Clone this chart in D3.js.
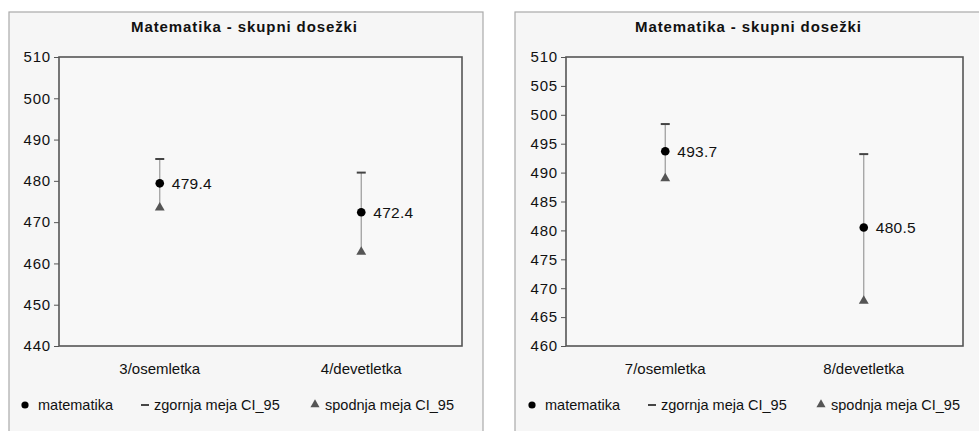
<!DOCTYPE html>
<html>
<head>
<meta charset="utf-8">
<script src="https://cdn.jsdelivr.net/npm/d3@7"></script>
<style>
  body { margin: 0; background: #fff; font-family: "Liberation Sans", Arial, sans-serif; }
  svg { display: block; }
</style>
</head>
<body>
<svg id="chart" width="979" height="431"></svg>
<script>
// data
var title = "Matematika - skupni dosežki";
var categoriesLeft = ["3/osemletka", "4/devetletka"];
var meanLeft = [479.4, 472.4];
var upperLeft = [485.3, 482.0];
var lowerLeft = [473.5, 462.8];
var ticksLeft = [440, 450, 460, 470, 480, 490, 500, 510];

var categoriesRight = ["7/osemletka", "8/devetletka"];
var meanRight = [493.7, 480.5];
var upperRight = [498.4, 493.2];
var lowerRight = [489.0, 467.8];
var ticksRight = [460, 465, 470, 475, 480, 485, 490, 495, 500, 505, 510];

var legendLabels = ["matematika", "zgornja meja CI_95", "spodnja meja CI_95"];

var svg = d3.select("#chart");

function drawChart(box, plot, cats, mean, upper, lower, ticks, legendX) {
    var g = svg.append("g");

    g.append("rect")
        .attr("x", box.x).attr("y", box.y)
        .attr("width", box.w).attr("height", box.h)
        .attr("fill", "#f6f6f6")
        .attr("stroke", "#aaa")
        .attr("stroke-width", 1.2);

    g.append("text")
        .attr("x", plot.x + plot.w / 2 - 16)
        .attr("y", 32)
        .attr("text-anchor", "middle")
        .style("font-weight", "bold")
        .style("font-size", "15px")
        .style("letter-spacing", "0.9px")
        .attr("fill", "#111")
        .text(title);

    var x = d3.scaleBand().domain(cats).range([plot.x, plot.x + plot.w]);
    var y = d3.scaleLinear().domain([ticks[0], ticks[ticks.length - 1]])
        .range([plot.y + plot.h, plot.y]);

    g.append("rect")
        .attr("x", plot.x).attr("y", plot.y)
        .attr("width", plot.w).attr("height", plot.h)
        .attr("fill", "#f8f8f8")
        .attr("stroke", "#555")
        .attr("stroke-width", 1.6);

    var yAxis = g.append("g")
        .attr("transform", "translate(" + plot.x + ",0)")
        .call(d3.axisLeft(y).tickValues(ticks).tickSize(5).tickPadding(3).tickFormat(d3.format("d")));
    yAxis.select(".domain").remove();
    yAxis.selectAll("line").attr("stroke", "#555");
    yAxis.selectAll("text")
        .style("font-size", "15px")
        .style("letter-spacing", "0.8px")
        .style("font-family", "Liberation Sans, Arial, sans-serif")
        .attr("fill", "#111");

    g.append("g")
        .selectAll("text")
        .data(cats)
        .join("text")
        .attr("x", function (d) { return x(d) + x.bandwidth() / 2; })
        .attr("y", plot.y + plot.h + 28)
        .attr("text-anchor", "middle")
        .style("font-size", "15px")
        .attr("fill", "#111")
        .text(function (d) { return d; });

    var pts = cats.map(function (c, i) {
        return { cat: c, mean: mean[i], up: upper[i], lo: lower[i] };
    });
    var cx = function (d) { return x(d.cat) + x.bandwidth() / 2; };

    // error line from lower to upper
    g.append("g").selectAll("line")
        .data(pts).join("line")
        .attr("x1", cx).attr("x2", cx)
        .attr("y1", function (d) { return y(d.up); })
        .attr("y2", function (d) { return y(d.lo); })
        .attr("stroke", "#9a9a9a")
        .attr("stroke-width", 1.2);

    // upper caps
    g.append("g").selectAll("line")
        .data(pts).join("line")
        .attr("x1", function (d) { return cx(d) - 4.5; })
        .attr("x2", function (d) { return cx(d) + 4.5; })
        .attr("y1", function (d) { return y(d.up); })
        .attr("y2", function (d) { return y(d.up); })
        .attr("stroke", "#444")
        .attr("stroke-width", 2);

    // lower triangles
    var tri = d3.symbol().type(d3.symbolTriangle).size(42);
    g.append("g").selectAll("path")
        .data(pts).join("path")
        .attr("d", tri)
        .attr("transform", function (d) { return "translate(" + cx(d) + "," + y(d.lo) + ")"; })
        .attr("fill", "#555");

    // mean dots
    g.append("g").selectAll("circle")
        .data(pts).join("circle")
        .attr("cx", cx)
        .attr("cy", function (d) { return y(d.mean); })
        .attr("r", 4.3)
        .attr("fill", "#000");

    g.append("g").selectAll("text")
        .data(pts).join("text")
        .attr("x", function (d) { return cx(d) + 12; })
        .attr("y", function (d) { return y(d.mean) + 5.5; })
        .style("font-size", "15.5px")
        .style("letter-spacing", "0.3px")
        .attr("fill", "#111")
        .text(function (d) { return d3.format(".1f")(d.mean); });

    // legend
    var ly = 405;
    var lg = g.append("g").style("font-size", "14.5px").attr("fill", "#111");
    lg.append("circle").attr("cx", legendX[0]).attr("cy", ly).attr("r", 3.6).attr("fill", "#000");
    lg.append("text").attr("x", legendX[0] + 13).attr("y", ly + 5).text(legendLabels[0]);
    lg.append("line")
        .attr("x1", legendX[1] - 4).attr("x2", legendX[1] + 4)
        .attr("y1", ly).attr("y2", ly)
        .attr("stroke", "#333").attr("stroke-width", 1.8);
    lg.append("text").attr("x", legendX[1] + 9).attr("y", ly + 5).text(legendLabels[1]);
    lg.append("path")
        .attr("d", d3.symbol().type(d3.symbolTriangle).size(36))
        .attr("transform", "translate(" + legendX[2] + "," + (ly - 0.5) + ")")
        .attr("fill", "#555");
    lg.append("text").attr("x", legendX[2] + 10).attr("y", ly + 5).text(legendLabels[2]);
}

drawChart({ x: 9, y: 12, w: 474, h: 430 },
          { x: 59, y: 57, w: 403, h: 289 },
          categoriesLeft, meanLeft, upperLeft, lowerLeft, ticksLeft,
          [25, 145, 315]);

drawChart({ x: 515, y: 12, w: 470, h: 430 },
          { x: 566, y: 57, w: 397, h: 289 },
          categoriesRight, meanRight, upperRight, lowerRight, ticksRight,
          [532, 652, 821]);
</script>
</body>
</html>
